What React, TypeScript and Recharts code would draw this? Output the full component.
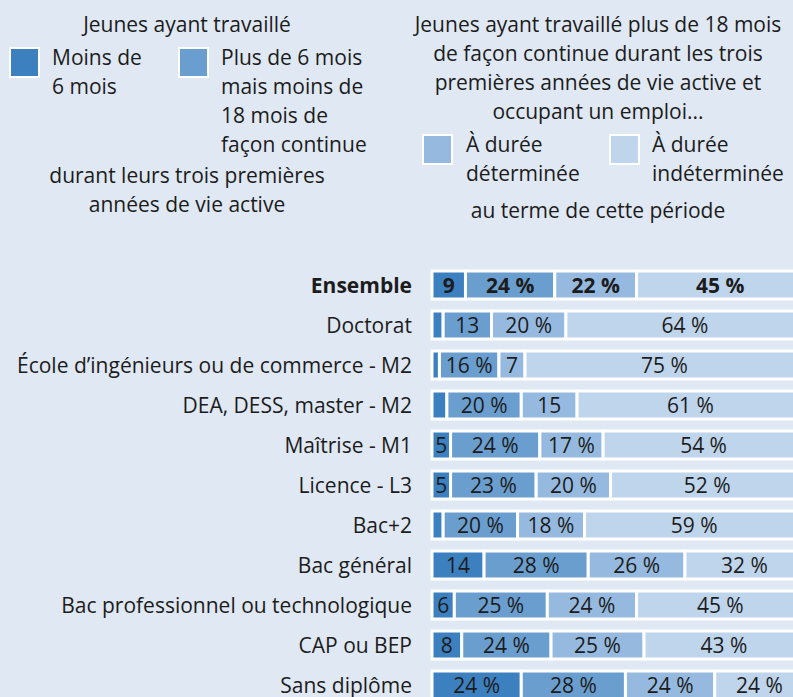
import { BarChart, Bar, XAxis, YAxis, LabelList } from "recharts";

const categories = [
  "Ensemble",
  "Doctorat",
  "École d’ingénieurs ou de commerce - M2",
  "DEA, DESS, master - M2",
  "Maîtrise - M1",
  "Licence - L3",
  "Bac+2",
  "Bac général",
  "Bac professionnel ou technologique",
  "CAP ou BEP",
  "Sans diplôme",
];

const lessThan6 = [9, 3, 2, 4, 5, 5, 3, 14, 6, 8, 24];
const from6To18 = [24, 13, 16, 20, 24, 23, 20, 28, 25, 24, 28];
const fixedTerm = [22, 20, 7, 15, 17, 20, 18, 26, 24, 25, 24];
const permanent = [45, 64, 75, 61, 54, 52, 59, 32, 45, 43, 24];

const series = [
  { key: "lessThan6", color: "#3d80c0" },
  { key: "from6To18", color: "#6a9ecf" },
  { key: "fixedTerm", color: "#96badf" },
  { key: "permanent", color: "#bfd5eb" },
];

const data = categories.map((name, i) => ({
  name,
  lessThan6: lessThan6[i],
  from6To18: from6To18[i],
  fixedTerm: fixedTerm[i],
  permanent: permanent[i],
}));

const FONT = "'Open Sans', sans-serif";
const SIZE = 21;
const TEXT = "#1c1c1c";
const BG = "#dfe8f3";

// small segments get no label, medium ones no "%" sign
const fmt = (v: number) => (v < 5 ? "" : v < 16 ? `${v}` : `${v} %`);

const SegLabel = (props: any) => {
  const { x, y, width, height, value, index } = props;
  const txt = fmt(value);
  if (!txt) return null;
  return (
    <text
      x={x + width / 2}
      y={y + height / 2}
      textAnchor="middle"
      dominantBaseline="central"
      fill={TEXT}
      fontSize={SIZE}
      fontFamily={FONT}
      fontWeight={index === 0 ? 700 : 400}
    >
      {txt}
    </text>
  );
};

const CatTick = (props: any) => {
  const { x, y, payload } = props;
  return (
    <text
      x={x}
      y={y}
      textAnchor="end"
      dominantBaseline="central"
      fill={TEXT}
      fontSize={SIZE}
      fontFamily={FONT}
      fontWeight={payload.value === "Ensemble" ? 700 : 400}
    >
      {payload.value}
    </text>
  );
};

const Swatch = ({ color, left, top }: { color: string; left: number; top: number }) => (
  <div
    style={{
      position: "absolute",
      left,
      top,
      width: 27,
      height: 27,
      background: color,
      border: "2px solid #fff",
    }}
  />
);

const txt = (left: number, top: number, lines: string[], align: "left" | "center" = "left", width?: number) => (
  <div
    style={{
      position: "absolute",
      left,
      top,
      width,
      textAlign: align,
      lineHeight: "29px",
      fontSize: SIZE,
      fontFamily: FONT,
      color: TEXT,
      whiteSpace: "nowrap",
    }}
  >
    {lines.map((l, i) => (
      <div key={i}>{l}</div>
    ))}
  </div>
);

export default function App() {
  return (
    <div
      style={{
        position: "fixed",
        left: 0,
        top: 0,
        width: 793,
        height: 697,
        overflow: "hidden",
        background: BG,
      }}
    >
      <style>{`.recharts-surface, .recharts-wrapper { overflow: visible !important; }`}</style>
      {txt(0, 10, ["Jeunes ayant travaillé"], "center", 374)}
      <Swatch color={series[0].color} left={9} top={47} />
      {txt(52, 43, ["Moins de", "6 mois"])}
      <Swatch color={series[1].color} left={178} top={47} />
      {txt(221, 43, ["Plus de 6 mois", "mais moins de", "18 mois de", "façon continue"])}
      {txt(0, 161, ["durant leurs trois premières", "années de vie active"], "center", 374)}

      {txt(400, 10, [
        "Jeunes ayant travaillé plus de 18 mois",
        "de façon continue durant les trois",
        "premières années de vie active et",
        "occupant un emploi...",
      ], "center", 396)}
      <Swatch color={series[2].color} left={422} top={134} />
      {txt(466, 130, ["À durée", "déterminée"])}
      <Swatch color={series[3].color} left={609} top={134} />
      {txt(652, 130, ["À durée", "indéterminée"])}
      {txt(400, 196, ["au terme de cette période"], "center", 396)}

      {/* the bars run past the right edge, as in the original crop */}
      <div style={{ position: "absolute", left: 0, top: 0 }}>
        <BarChart
          width={793}
          height={706}
          data={data}
          layout="vertical"
          margin={{ top: 265, right: -11, bottom: 1, left: 0 }}
        >
          <XAxis type="number" domain={[0, 100]} hide />
          <YAxis
            type="category"
            dataKey="name"
            width={432}
            axisLine={false}
            tickLine={false}
            tickSize={0}
            tickMargin={20}
            tick={<CatTick />}
            interval={0}
          />
          {series.map((s) => (
            <Bar
              key={s.key}
              dataKey={s.key}
              stackId="a"
              fill={s.color}
              stroke="#ffffff"
              strokeWidth={3}
              barSize={28}
              isAnimationActive={false}
            >
              <LabelList dataKey={s.key} content={<SegLabel />} />
            </Bar>
          ))}
        </BarChart>
      </div>
    </div>
  );
}
